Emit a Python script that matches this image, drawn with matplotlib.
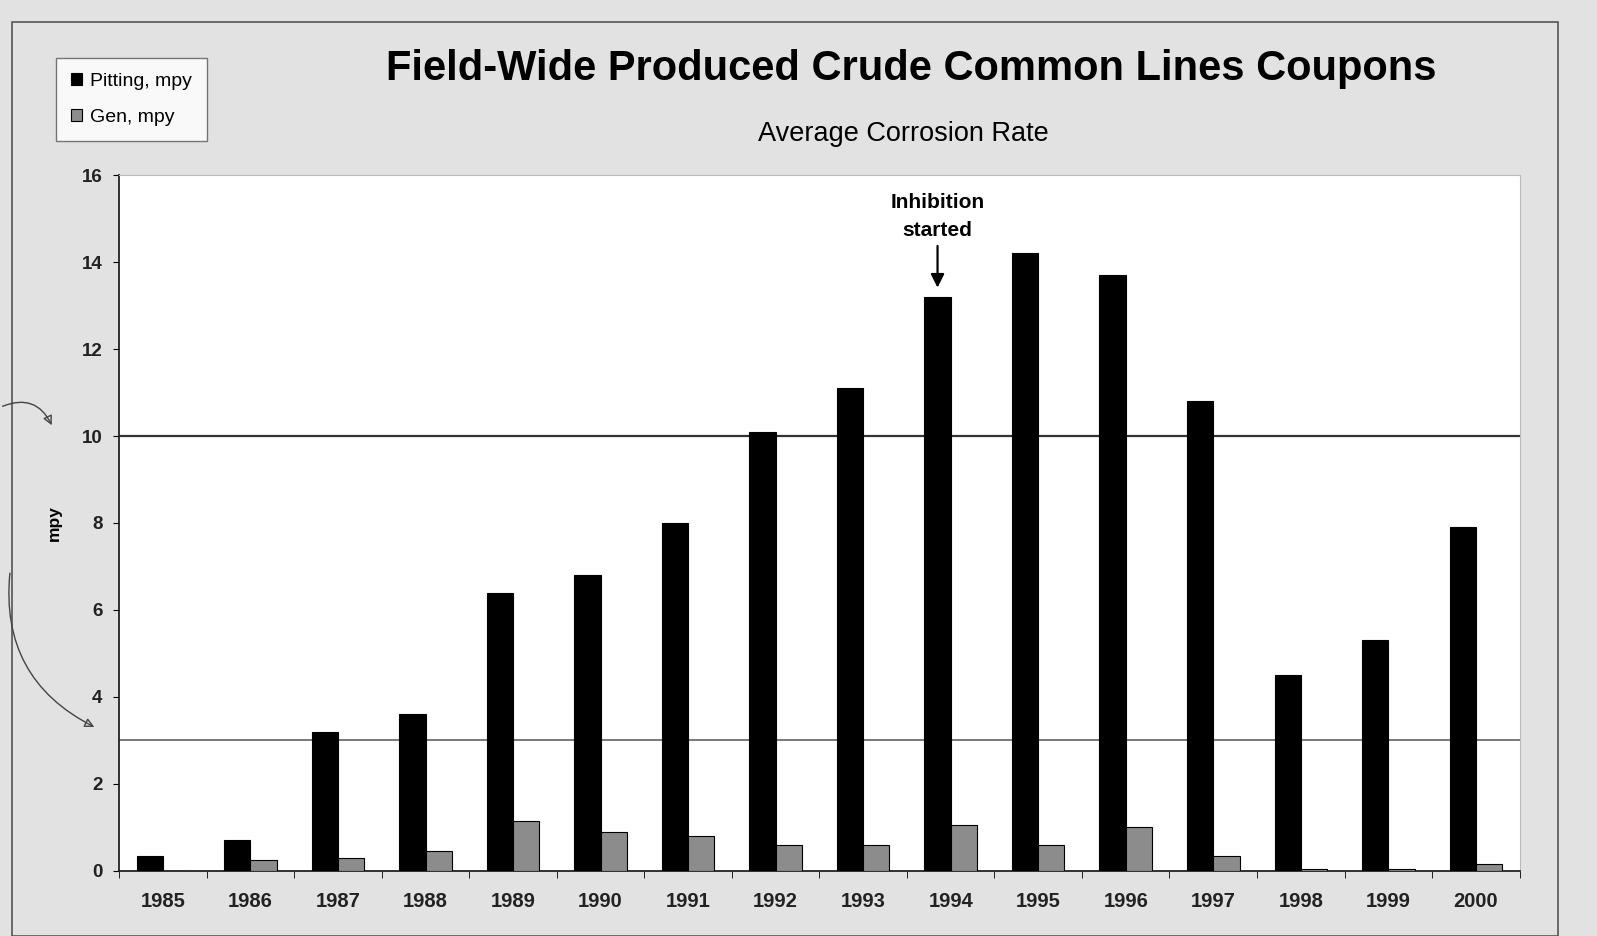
"""Field-wide produced crude common lines coupons -> out.png"""
import numpy as np
import matplotlib
matplotlib.use("Agg")
from matplotlib import pyplot as plt
from matplotlib.patches import Rectangle, FancyArrowPatch

YEARS = ["1985", "1986", "1987", "1988", "1989", "1990", "1991", "1992",
         "1993", "1994", "1995", "1996", "1997", "1998", "1999", "2000"]
PITTING = [0.33, 0.7, 3.2, 3.6, 6.4, 6.8, 8.0, 10.1,
           11.1, 13.2, 14.2, 13.7, 10.8, 4.5, 5.3, 7.9]
GEN = [0.0, 0.25, 0.3, 0.45, 1.15, 0.9, 0.8, 0.6,
       0.6, 1.05, 0.6, 1.0, 0.35, 0.05, 0.05, 0.15]
LIMITS = [10, 3]
YTICKS = [0, 2, 4, 6, 8, 10, 12, 14, 16]

plt.rcParams["font.family"] = ["Liberation Sans", "DejaVu Sans"]

W, H = 1597, 936
S = W / 1568  # layout measured on a 1568-wide view


def fx(xp):
    return xp * S / W


def fy(yp):
    return 1 - yp * S / H


fig = plt.figure(figsize=(W / 100, H / 100), dpi=100, facecolor="#e2e2e2")

# scanned page frame
fig.patches.append(Rectangle((fx(12), 0), fx(1530) - fx(12), fy(22),
                             transform=fig.transFigure, fill=False,
                             ec="#555555", lw=1.2))

ax = fig.add_axes([fx(117), fy(855), fx(1492) - fx(117), fy(172) - fy(855)])
ax.set_facecolor("white")

x = np.arange(len(YEARS))
w = 0.3
ax.bar(x - w / 2, PITTING, w, color="black", edgecolor="black", lw=0.8,
       label="Pitting, mpy", zorder=3)
ax.bar(x + w / 2, GEN, w, color="#8c8c8c", edgecolor="black", lw=0.8,
       label="Gen, mpy", zorder=3)

ax.axhline(LIMITS[0], color="#333333", lw=1.6, zorder=2)
ax.axhline(LIMITS[1], color="#555555", lw=1.1, zorder=2)

ax.set_xlim(-0.5, len(YEARS) - 0.5)
ax.set_ylim(0, 16)
ax.set_yticks(YTICKS)
ax.set_yticklabels([str(v) for v in YTICKS], fontsize=13.5, fontweight="bold",
                   color="#222222")
ax.set_xticks(x)
ax.set_xticklabels(YEARS, fontsize=14.5, fontweight="bold", color="#222222")
ax.tick_params(axis="x", length=0, pad=15)
ax.set_xticks(np.arange(len(YEARS) + 1) - 0.5, minor=True)
ax.tick_params(axis="x", which="minor", length=5, direction="out")
ax.tick_params(axis="y", length=4, direction="out", pad=8)
for s in ("top", "right"):
    ax.spines[s].set_color("#bbbbbb")
    ax.spines[s].set_linewidth(0.8)
for s in ("left", "bottom"):
    ax.spines[s].set_color("#222222")
    ax.spines[s].set_linewidth(1.3)

ax.set_ylabel("mpy", fontsize=12.5, fontweight="bold", labelpad=14)

# annotation
i94 = YEARS.index("1994")
ax.annotate("Inhibition\nstarted", xy=(x[i94] - w / 2, PITTING[i94] + 0.15),
            xytext=(x[i94] - w / 2, PITTING[i94] + 1.3),
            ha="center", va="bottom", fontsize=15, fontweight="bold",
            linespacing=1.65,
            arrowprops=dict(arrowstyle="-|>", color="black", lw=1.6,
                            mutation_scale=20))

fig.text(fx(895), fy(68), "Field-Wide Produced Crude Common Lines Coupons",
         ha="center", va="center", fontsize=30, fontweight="bold")
fig.text(fx(887), fy(132), "Average Corrosion Rate",
         ha="center", va="center", fontsize=19.5)

leg = fig.legend(loc="upper left", bbox_to_anchor=(fx(55), fy(57)),
                 borderaxespad=0, fontsize=14, frameon=True, fancybox=False,
                 handlelength=0.6, handleheight=0.6, handletextpad=0.4,
                 labelspacing=1.0, borderpad=0.75)
leg.get_frame().set_edgecolor("#555555")
leg.get_frame().set_linewidth(1.0)

# hand-drawn margin arrows from the scan
fig.patches.append(FancyArrowPatch((fx(0), fy(400)), (fx(52), fy(420)),
                                   transform=fig.transFigure,
                                   connectionstyle="arc3,rad=-0.5",
                                   arrowstyle="-|>", mutation_scale=14,
                                   color="#444444", lw=1.0, fill=False))
fig.patches.append(FancyArrowPatch((fx(10), fy(560)), (fx(95), fy(715)),
                                   transform=fig.transFigure,
                                   connectionstyle="arc3,rad=0.35",
                                   arrowstyle="-|>", mutation_scale=14,
                                   color="#444444", lw=1.0, fill=False))

fig.savefig("out.png", dpi=100, facecolor=fig.get_facecolor())
